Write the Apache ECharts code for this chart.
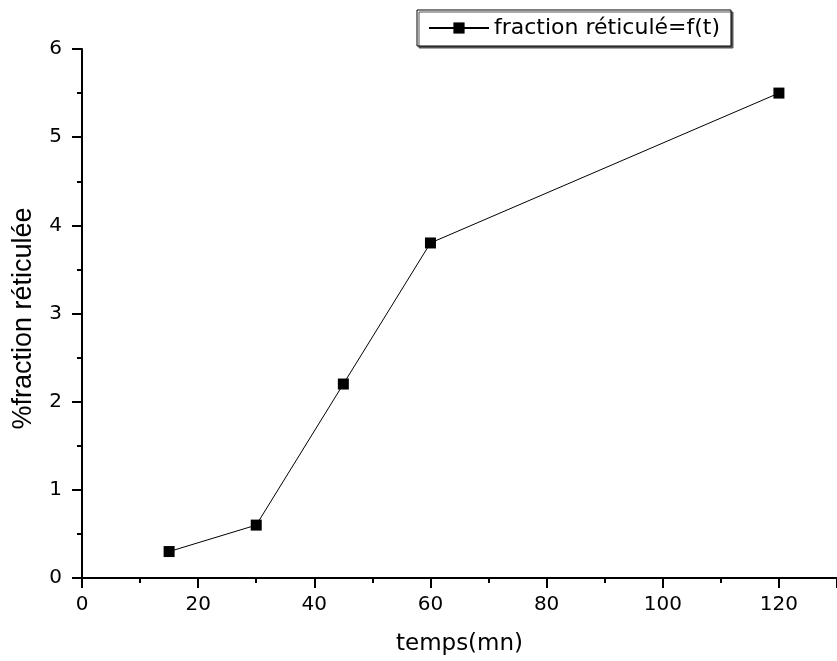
<!DOCTYPE html>
<html>
<head>
<meta charset="utf-8">
<script src="https://cdn.jsdelivr.net/npm/echarts@6/dist/echarts.min.js"></script>
<style>html,body{margin:0;padding:0;background:#fff;}#c{width:837px;height:661px;}</style>
</head>
<body>
<div id="c"></div>
<script>
const times = [15, 30, 45, 60, 120];
const fraction = [0.3, 0.6, 2.2, 3.8, 5.5];
const seriesName = 'fraction réticulé=f(t)';
const xAxisName = 'temps(mn)';
const yAxisName = '%fraction réticulée';

const chart = echarts.init(document.getElementById('c'), null, {renderer: 'canvas'});
const axisCommon = {
  axisLine: {show: true, lineStyle: {color: '#000', width: 2}},
  axisTick: {show: true, inside: false, length: 10, lineStyle: {color: '#000', width: 2}},
  minorTick: {show: true, splitNumber: 2, length: 5, lineStyle: {color: '#000', width: 2}},
  splitLine: {show: false},
  minorSplitLine: {show: false}
};
chart.setOption({
  backgroundColor: '#fff',
  animation: false,
  grid: {left: 82, top: 49, bottom: 78, right: -8, containLabel: false},
  legend: {
    left: 417, top: 10,
    padding: [7, 11, 7, 11],
    itemWidth: 60, itemHeight: 14,
    borderColor: '#000', borderWidth: 1,
    backgroundColor: '#fff',
    shadowColor: '#555', shadowOffsetX: 2, shadowOffsetY: 2, shadowBlur: 0,
    textStyle: {fontFamily: 'DejaVu Sans', fontSize: 22, color: '#000'},
    data: [seriesName]
  },
  xAxis: Object.assign({
    type: 'value', min: 0, max: 130, interval: 20,
    name: xAxisName, nameLocation: 'middle', nameGap: 55,
    nameTextStyle: {fontFamily: 'DejaVu Sans', fontSize: 23, color: '#000'},
    axisLabel: {fontFamily: 'DejaVu Sans', fontSize: 20, color: '#000', margin: 17,
      showMaxLabel: false}
  }, axisCommon),
  yAxis: Object.assign({
    type: 'value', min: 0, max: 6, interval: 1,
    name: yAxisName, nameLocation: 'middle', nameGap: 45,
    nameTextStyle: {fontFamily: 'Liberation Sans', fontSize: 27, color: '#000',
      padding: [0, 10, 0, 0]},
    axisLabel: {fontFamily: 'DejaVu Sans', fontSize: 20, color: '#000', margin: 20}
  }, axisCommon),
  series: [{
    name: seriesName,
    type: 'line',
    data: times.map((t, i) => [t, fraction[i]]),
    symbol: 'rect', symbolSize: 11,
    itemStyle: {color: '#000'},
    lineStyle: {color: '#000', width: 1}
  }]
});
</script>
</body>
</html>
